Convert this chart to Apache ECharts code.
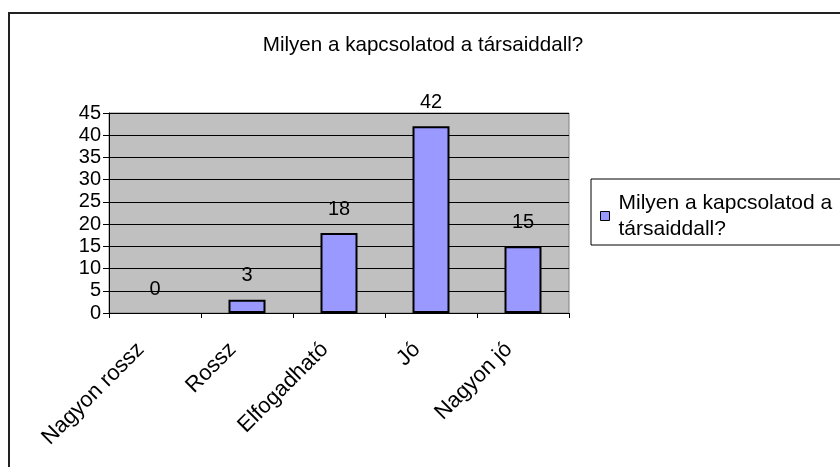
<!DOCTYPE html>
<html>
<head>
<meta charset="utf-8">
<script src="https://cdn.jsdelivr.net/npm/echarts@6/dist/echarts.min.js"></script>
<style>
  html, body { margin: 0; padding: 0; background: #fff; }
  #chart { width: 840px; height: 467px; }
</style>
</head>
<body>
<div id="chart"></div>
<script>
// kategóriák és értékek
var categories = ['Nagyon rossz', 'Rossz', 'Elfogadható', 'Jó', 'Nagyon jó'];
var values = [0, 3, 18, 42, 15];
var seriesName = 'Milyen a kapcsolatod a társaiddall?';

var chart = echarts.init(document.getElementById('chart'));
var font = 'Liberation Sans, Arial, sans-serif';

// a nulla értékű oszlopnak ne legyen kerete
var barData = values.map(function (v) {
  return v === 0 ? { value: v, itemStyle: { borderWidth: 0 } } : v;
});

var option = {
  animation: false,
  title: {
    text: seriesName,
    left: 418,
    top: 30,
    textAlign: 'center',
    textStyle: { fontFamily: font, fontSize: 20.6, fontWeight: 'normal', color: '#000' }
  },
  graphic: [
    {
      type: 'rect',
      shape: { x: 9, y: 13, width: 900, height: 500 },
      style: { fill: 'none', stroke: '#222', lineWidth: 2 },
      z: -10
    },
    {
      type: 'rect',
      shape: { x: 591, y: 179, width: 300, height: 66 },
      style: { fill: '#fff', stroke: '#000', lineWidth: 1 },
      z: -5
    }
  ],
  legend: {
    left: 600,
    top: 177,
    padding: 0,
    itemWidth: 9,
    itemHeight: 9,
    itemGap: 0,
    icon: 'rect',
    data: [{ name: seriesName, itemStyle: { borderColor: '#000', borderWidth: 1 } }],
    formatter: function () { return 'Milyen a kapcsolatod a\ntársaiddall?'; },
    textStyle: { fontFamily: font, fontSize: 21, color: '#000', lineHeight: 26, padding: [26, 0, 0, 4] }
  },
  grid: {
    left: 109,
    top: 113,
    width: 460,
    height: 200,
    show: true,
    backgroundColor: '#c0c0c0',
    borderColor: '#808080',
    borderWidth: 1
  },
  xAxis: {
    type: 'category',
    data: categories,
    axisLine: { lineStyle: { color: '#000', width: 1 } },
    axisTick: { show: true, length: 5, lineStyle: { color: '#000' } },
    axisLabel: {
      rotate: 45,
      margin: 19,
      interval: 0,
      padding: [0, 20, 0, 0],
      fontFamily: font,
      fontSize: 22,
      color: '#000'
    }
  },
  yAxis: {
    type: 'value',
    min: 0,
    max: 45,
    interval: 5,
    axisLine: { show: true, lineStyle: { color: '#000', width: 1 } },
    axisTick: { show: true, length: 6, lineStyle: { color: '#000' } },
    axisLabel: { margin: 8, fontFamily: font, fontSize: 20, color: '#000' },
    splitLine: { lineStyle: { color: '#000', width: 1 } }
  },
  series: [
    {
      name: seriesName,
      type: 'bar',
      data: barData,
      barWidth: 37,
      itemStyle: { color: '#9999ff', borderColor: '#000', borderWidth: 2 },
      label: {
        show: true,
        position: 'top',
        distance: 14,
        fontFamily: font,
        fontSize: 20,
        color: '#000'
      }
    }
  ]
};

chart.setOption(option);
</script>
</body>
</html>
